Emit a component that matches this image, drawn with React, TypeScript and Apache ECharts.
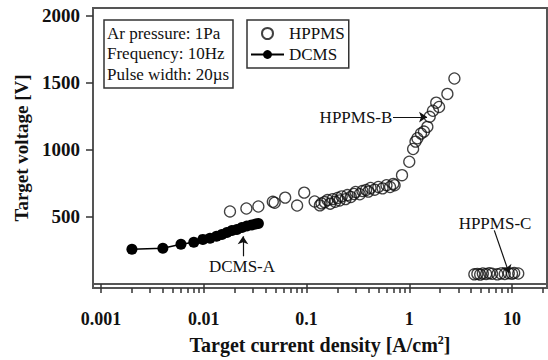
import React, { useEffect, useRef } from 'react';
import * as echarts from 'echarts';

// ---------- data ----------
const dcmsX = [0.002, 0.004, 0.006, 0.008, 0.0098, 0.0115, 0.0133, 0.015, 0.0168, 0.0188, 0.021, 0.0235, 0.0263, 0.0294, 0.032, 0.034];
const dcmsY = [258, 266, 295, 310, 332, 340, 355, 369, 384, 399, 406, 421, 432, 440, 446, 450];

const hppmsX = [
  0.018, 0.026, 0.034, 0.047, 0.049, 0.062, 0.081, 0.095, 0.12, 0.135,
  0.14, 0.15, 0.16, 0.17, 0.18, 0.19, 0.2, 0.21, 0.22, 0.24,
  0.25, 0.27, 0.29, 0.3, 0.33, 0.35, 0.38, 0.4, 0.42, 0.46,
  0.5, 0.55, 0.6, 0.65, 0.7, 0.72,
  0.85, 1.0, 1.09, 1.15, 1.2, 1.3, 1.39, 1.5, 1.58, 1.7, 1.83, 1.95, 2.35, 2.75,
  4.3, 4.6, 4.9, 5.2, 5.6, 6.0, 6.4, 7.2, 7.8, 8.5, 9.3, 10.0, 10.5, 11.5,
];
const hppmsY = [
  540, 562, 577, 612, 605, 643, 584, 680, 614, 585,
  600, 610, 625, 598, 632, 612, 640, 622, 652, 632,
  662, 648, 670, 685, 668, 692, 700, 688, 715, 702,
  722, 712, 735, 722, 745, 735,
  810, 910, 1005, 1060, 1085, 1120, 1135, 1170, 1245, 1290, 1350, 1318, 1415, 1530,
  72, 75, 70, 78, 74, 80, 76, 72, 78, 74, 80, 76, 82, 78,
];

const xMajorTicks = [0.001, 0.01, 0.1, 1, 10];
const xMajorLabels = ['0.001', '0.01', '0.1', '1', '10'];
const xMinorTicks = [
  0.002, 0.003, 0.004, 0.005, 0.006, 0.007, 0.008, 0.009,
  0.02, 0.03, 0.04, 0.05, 0.06, 0.07, 0.08, 0.09,
  0.2, 0.3, 0.4, 0.5, 0.6, 0.7, 0.8, 0.9,
  2, 3, 4, 5, 6, 7, 8, 9, 20,
];
const yTicks = [500, 1000, 1500, 2000];
const yLabels = ['500', '1000', '1500', '2000'];

const X_MIN = 0.000836;
const X_MAX = 21.9;
const Y_MIN = -30;
const Y_MAX = 2055;

const FONT = "'Liberation Serif', 'Times New Roman', serif";

export default function App() {
  const ref = useRef<HTMLDivElement>(null);

  useEffect(() => {
    document.body.style.margin = '0';
    if (!ref.current) return;
    const chart = echarts.init(ref.current, undefined, { renderer: 'svg' });

    const frame = '#555';
    const ink = '#111';

    const option: any = {
      animation: false,
      backgroundColor: '#fff',
      textStyle: { fontFamily: FONT },
      title: {
        text: 'Ar pressure: 1Pa\nFrequency: 10Hz\nPulse width: 20µs',
        left: 104,
        top: 20,
        padding: [3, 4, 4, 3],
        borderColor: '#333',
        borderWidth: 1.5,
        textStyle: { fontFamily: FONT, fontSize: 17, fontWeight: 'normal', lineHeight: 20.5, color: ink },
      },
      legend: {
        data: ['HPPMS', 'DCMS'],
        orient: 'vertical',
        left: 247,
        top: 20,
        padding: [5, 4, 5, 3],
        itemGap: 4,
        itemWidth: 33,
        itemHeight: 11,
        borderColor: '#333',
        borderWidth: 1.5,
        textStyle: { fontFamily: FONT, fontSize: 17, color: ink, lineHeight: 17 },
      },
      grid: {
        left: 93, right: 1, top: 8, bottom: 70,
        show: true, borderColor: frame, borderWidth: 2,
      },
      xAxis: [
        {
          type: 'log',
          logBase: 10,
          min: X_MIN,
          max: X_MAX,
          position: 'bottom',
          axisLine: { show: true, lineStyle: { color: frame, width: 2 } },
          axisTick: { show: true, customValues: xMajorTicks, length: 9, lineStyle: { color: '#333', width: 1.5 } },
          axisLabel: {
            customValues: xMajorTicks,
            formatter: (v: number) => {
              const i = xMajorTicks.findIndex((t) => Math.abs(Math.log10(t) - Math.log10(v)) < 1e-6);
              return i >= 0 ? xMajorLabels[i] : '';
            },
            margin: 22,
            fontSize: 18,
            fontWeight: 'bold',
            color: ink,
            fontFamily: FONT,
          },
          splitLine: { show: false },
          minorTick: { show: false },
          name: '{a|Target current density [A/cm}{s|2}{a|]}',
          nameLocation: 'middle',
          nameGap: 46,
          nameTextStyle: {
            rich: {
              a: { fontFamily: FONT, fontSize: 20, fontWeight: 'bold', color: ink },
              s: { fontFamily: FONT, fontSize: 12, fontWeight: 'bold', color: ink, verticalAlign: 'bottom', padding: [0, 0, 10, 0] },
            },
          },
        },
        {
          type: 'log',
          logBase: 10,
          min: X_MIN,
          max: X_MAX,
          position: 'bottom',
          axisLine: { show: false },
          axisTick: { show: true, customValues: xMinorTicks, length: 5, lineStyle: { color: '#333', width: 1.5 } },
          axisLabel: { show: false },
          splitLine: { show: false },
        },
      ],
      yAxis: {
        type: 'value',
        min: Y_MIN,
        max: Y_MAX,
        axisLine: { show: true, lineStyle: { color: frame, width: 2 } },
        axisTick: { show: true, customValues: yTicks, length: 7, lineStyle: { color: '#333', width: 1.5 } },
        axisLabel: {
          customValues: yTicks,
          formatter: (v: number) => {
            const i = yTicks.indexOf(Math.round(v));
            return i >= 0 ? yLabels[i] : '';
          },
          margin: 13,
          fontSize: 19,
          fontWeight: 'bold',
          color: ink,
          fontFamily: FONT,
        },
        splitLine: { show: false },
        name: 'Target voltage [V]',
        nameLocation: 'middle',
        nameGap: 61,
        nameTextStyle: { fontFamily: FONT, fontSize: 19, fontWeight: 'bold', color: ink },
      },
      series: [
        {
          name: 'HPPMS',
          type: 'scatter',
          xAxisIndex: 0,
          symbol: 'circle',
          symbolSize: 11,
          itemStyle: { color: 'rgba(255,255,255,0)', borderColor: ink, borderWidth: 1.3 },
          data: hppmsX.map((x, i) => [x, hppmsY[i]]),
          markLine: {
            silent: true,
            symbol: ['none', 'arrow'],
            symbolSize: 8,
            lineStyle: { color: ink, width: 1.2, type: 'solid' },
            label: { show: false },
            data: [
              [{ coord: [0.0241, 206] }, { coord: [0.0241, 355] }],
              [{ coord: [0.695, 1243] }, { coord: [1.49, 1243] }],
              [{ coord: [6.72, 399] }, { coord: [9.35, 81] }],
            ],
          },
          markPoint: {
            silent: true,
            symbol: 'circle',
            symbolSize: 0,
            itemStyle: { color: 'rgba(0,0,0,0)' },
            label: {
              show: true,
              position: 'inside',
              formatter: (p: any) => p.name,
              fontFamily: FONT,
              fontSize: 17,
              color: ink,
            },
            data: [
              { name: 'DCMS-A', coord: [0.02355, 132] },
              { name: 'HPPMS-B', coord: [0.303, 1243] },
              { name: 'HPPMS-C', coord: [6.83, 451] },
            ],
          },
          z: 3,
        },
        {
          name: 'DCMS',
          type: 'line',
          xAxisIndex: 0,
          symbol: 'circle',
          symbolSize: 11,
          showAllSymbol: true,
          itemStyle: { color: '#000' },
          lineStyle: { color: '#000', width: 1.5 },
          data: dcmsX.map((x, i) => [x, dcmsY[i]]),
          z: 4,
        },
      ],
    };

    chart.setOption(option);
    return () => chart.dispose();
  }, []);

  return (
    <div
      ref={ref}
      style={{ position: 'fixed', left: 0, top: 0, width: 548, height: 360 }}
    />
  );
}
